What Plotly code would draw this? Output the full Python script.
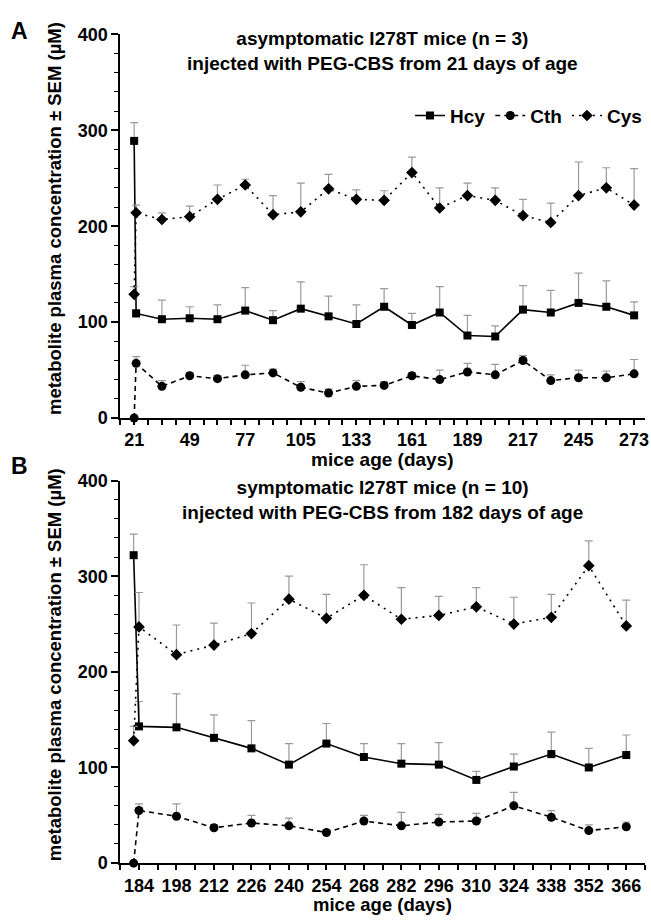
import plotly.graph_objects as go

# ---------------- data ----------------
days_A = [21, 22, 35, 49, 63, 77, 91, 105, 119, 133, 147, 161, 175, 189, 203, 217, 231, 245, 259, 273]
hcy_A = [289, 109, 103, 104, 103, 112, 102, 114, 106, 98, 116, 97, 110, 86, 85, 113, 110, 120, 116, 107]
hcy_A_sem = [19, 4, 20, 12, 15, 24, 10, 28, 21, 20, 19, 12, 27, 21, 11, 25, 23, 31, 27, 14]
cth_A = [0, 57, 33, 44, 41, 45, 47, 32, 26, 33, 34, 44, 40, 48, 45, 60, 39, 42, 42, 46]
cth_A_sem = [1, 7, 6, 3, 3, 10, 4, 6, 4, 6, 4, 3, 10, 9, 11, 5, 6, 8, 7, 15]
cys_A = [129, 214, 207, 210, 228, 243, 212, 215, 239, 228, 227, 256, 219, 232, 227, 211, 204, 232, 240, 222]
cys_A_sem = [8, 8, 7, 11, 15, 6, 20, 30, 15, 10, 10, 16, 21, 13, 13, 17, 20, 35, 21, 38]

days_B = [182, 184, 198, 212, 226, 240, 254, 268, 282, 296, 310, 324, 338, 352, 366]
hcy_B = [322, 143, 142, 131, 120, 103, 125, 111, 104, 103, 87, 101, 114, 100, 113]
hcy_B_sem = [22, 26, 35, 24, 29, 22, 21, 14, 21, 23, 9, 13, 23, 20, 21]
cth_B = [0, 55, 49, 37, 42, 39, 32, 44, 39, 43, 44, 60, 48, 34, 38]
cth_B_sem = [1, 7, 13, 3, 8, 8, 2, 6, 14, 8, 8, 14, 7, 6, 5]
cys_B = [128, 247, 218, 228, 240, 276, 256, 280, 255, 259, 268, 250, 257, 311, 248]
cys_B_sem = [15, 36, 31, 23, 32, 24, 25, 32, 33, 20, 20, 28, 24, 26, 27]

series_names = ["Hcy", "Cth", "Cys"]
ticks_A = [21, 49, 77, 105, 133, 161, 189, 217, 245, 273]
ticks_B = [184, 198, 212, 226, 240, 254, 268, 282, 296, 310, 324, 338, 352, 366]

title_A = "asymptomatic I278T mice (n = 3)<br>injected with PEG-CBS from 21 days of age"
title_B = "symptomatic I278T mice (n = 10)<br>injected with PEG-CBS from 182 days of age"
ytitle = "metabolite plasma concentration ± SEM (µM)"
xtitle = "mice age (days)"

# ---------------- styling ----------------
W, H = 651, 924
FONT = "Liberation Sans, Arial, sans-serif"
ERR = "#9a9a9a"
styles = {
    "Hcy": dict(symbol="square", size=8, dash="solid"),
    "Cth": dict(symbol="circle", size=9, dash="5px,4px"),
    "Cys": dict(symbol="diamond", size=9, dash="2px,5px"),
}


def px_x(p):
    return p / W


def px_y(p):
    return 1 - p / H


fig = go.Figure()

panels = [
    (days_A, [hcy_A, cth_A, cys_A], [hcy_A_sem, cth_A_sem, cys_A_sem], "x", "y", True),
    (days_B, [hcy_B, cth_B, cys_B], [hcy_B_sem, cth_B_sem, cys_B_sem], "x2", "y2", False),
]
for days, vals, sems, xa, ya, show in panels:
    for name, v, s in zip(series_names, vals, sems):
        st = styles[name]
        fig.add_trace(go.Scatter(
            x=days, y=v, name=name, xaxis=xa, yaxis=ya,
            mode="lines+markers", showlegend=show, cliponaxis=False,
            line=dict(color="black", width=1.6, dash=st["dash"]),
            marker=dict(symbol=st["symbol"], size=st["size"], color="black"),
            error_y=dict(type="data", symmetric=False, array=s,
                         arrayminus=[0] * len(s), color=ERR, thickness=1.2, width=4),
        ))

xl, xr = 121, 649
yA_top, yA_bot = 25, 417
yB_top, yB_bot = 481, 872

tickfont = dict(family=FONT, size=18, color="black", weight="bold")
common_x = dict(showgrid=False, zeroline=False, showline=True, linecolor="black",
                linewidth=1.6, ticks="outside", ticklen=5, tickwidth=1.5,
                tickcolor="black", tickfont=tickfont, fixedrange=True,
                tickangle=0, ticklabeloverflow="allow")
common_y = dict(showgrid=False, zeroline=False, showline=True, linecolor="black",
                linewidth=1.6, ticks="outside", ticklen=7, tickwidth=1.5,
                tickcolor="black", tickfont=tickfont, range=[0, 400],
                tickmode="array", tickvals=[0, 100, 200, 300, 400],
                minor=dict(dtick=20, tick0=0, ticks="outside", ticklen=4,
                           tickwidth=1.2, tickcolor="black"))

fig.update_layout(
    width=W, height=H, margin=dict(l=0, r=0, t=0, b=0),
    paper_bgcolor="white", plot_bgcolor="white",
    font=dict(family=FONT, color="black"),
    xaxis=dict(common_x, domain=[px_x(xl), px_x(xr)], range=[14, 278.5],
               anchor="y", tickmode="array", tickvals=ticks_A,
               minor=dict(dtick=7, tick0=14, ticks="outside", ticklen=5,
                          tickwidth=1.5, tickcolor="black")),
    yaxis=dict(common_y, domain=[px_y(yA_bot), px_y(yA_top)], anchor="x"),
    xaxis2=dict(common_x, domain=[px_x(xl), px_x(xr)], range=[177, 373],
                anchor="y2", tickmode="array", tickvals=ticks_B,
                minor=dict(dtick=7, tick0=177, ticks="outside", ticklen=5,
                           tickwidth=1.5, tickcolor="black")),
    yaxis2=dict(common_y, domain=[px_y(yB_bot), px_y(yB_top)], anchor="x2"),
    legend=dict(orientation="h", x=px_x(651), xanchor="right",
                y=px_y(108), yanchor="middle", bgcolor="rgba(0,0,0,0)",
                font=dict(family=FONT, size=19, color="black", weight="bold"),
                itemwidth=30, tracegroupgap=0),
    showlegend=True,
)

ann_font = dict(family=FONT, size=19, color="black", weight="bold")
cx = (xl + xr) / 2
annotations = [
    dict(text="A", x=px_x(20), y=px_y(21), font=dict(family=FONT, size=23, color="black", weight="bold")),
    dict(text="B", x=px_x(20), y=px_y(466), font=dict(family=FONT, size=23, color="black", weight="bold")),
    dict(text=title_A, x=px_x(cx), y=px_y(42), font=ann_font),
    dict(text=title_B, x=px_x(cx), y=px_y(501), font=ann_font),
    dict(text=ytitle, x=px_x(55), y=px_y(213), textangle=-90,
         font=dict(ann_font, size=18.5)),
    dict(text=ytitle, x=px_x(55), y=px_y(669), textangle=-90,
         font=dict(ann_font, size=18.5)),
    dict(text=xtitle, x=px_x(cx), y=px_y(459), font=ann_font),
    dict(text=xtitle, x=px_x(cx), y=px_y(914), font=dict(ann_font, size=18.5)),
]
for a in annotations:
    fig.add_annotation(xref="paper", yref="paper", showarrow=False,
                       xanchor="center", yanchor="middle", **a)

fig.write_html("out.html", config={"displayModeBar": False},
               post_script="document.body.style.margin='0';document.body.style.overflow='hidden';")
